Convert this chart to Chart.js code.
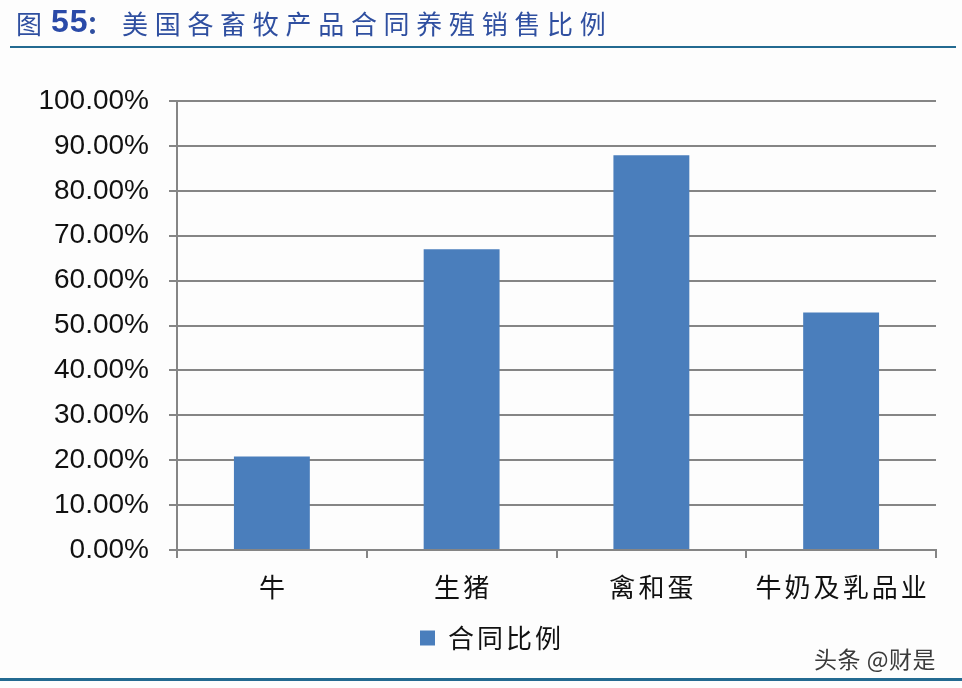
<!DOCTYPE html>
<html>
<head>
<meta charset="utf-8">
<script src="https://cdn.jsdelivr.net/npm/chart.js@4.4.1/dist/chart.umd.min.js"></script>
<style>
  html, body { margin: 0; padding: 0; background: #ffffff; }
  #wrap { position: relative; width: 962px; height: 688px; overflow: hidden; background: #fdfdfd; }
  #chart { position: absolute; left: 0; top: 0; }
  .tt { position: absolute; top: 6px; font-family: "Noto Sans CJK SC", sans-serif; font-size: 26px; color: #2f4fa0; white-space: nowrap; line-height: 34px; }
  #t1 { left: 16px; }
  #t2 { left: 51px; top: 4px; font-family: "Liberation Sans", Arial, sans-serif; font-weight: bold; font-size: 32px; color: #2a4aa8; letter-spacing: 1px; }
  #t3 { left: 86px; font-weight: bold; }
  #t4 { left: 122px; letter-spacing: 6.7px; }
  #topline { position: absolute; left: 10px; top: 46px; width: 946px; height: 2px; background: #236a91; }
  #botline { position: absolute; left: 0px; top: 678px; width: 962px; height: 3px; background: #236a91; }
  #wm { position: absolute; left: 814px; top: 641px; font-family: "Noto Sans CJK SC", sans-serif; font-size: 23px; color: #3a3a3a; white-space: nowrap; letter-spacing: 0.5px; }
</style>
</head>
<body>
<div id="wrap">
  <canvas id="chart" width="962" height="688"></canvas>
  <span class="tt" id="t1">图</span><span class="tt" id="t2">55</span><span class="tt" id="t3">：</span><span class="tt" id="t4">美国各畜牧产品合同养殖销售比例</span>
  <div id="topline"></div>
  <div id="botline"></div>
  <div id="wm">头条 @财是</div>
</div>
<script>
const categories = ["牛", "生猪", "禽和蛋", "牛奶及乳品业"];
const seriesName = "合同比例";
const contractShare = [20.8, 67.0, 87.9, 52.9];
const yTickValues = [0, 10, 20, 30, 40, 50, 60, 70, 80, 90, 100];

const gridColor = "#858585";
const barColor = "#4a7ebc";

const chart = new Chart(document.getElementById("chart"), {
  type: "bar",
  data: {
    labels: categories,
    datasets: [{
      label: seriesName,
      data: contractShare,
      backgroundColor: barColor,
      borderWidth: 0,
      barPercentage: 0.4,
      categoryPercentage: 1.0
    }]
  },
  options: {
    responsive: false,
    devicePixelRatio: 1,
    animation: false,
    layout: { padding: { top: 101, right: 26, left: 36, bottom: 27 } },
    plugins: {
      tooltip: { enabled: false },
      legend: {
        position: "bottom",
        labels: {
          boxWidth: 15,
          boxHeight: 15,
          padding: 10,
          color: "#111111",
          font: { family: "'Noto Sans CJK SC', sans-serif", size: 26 }
        }
      }
    },
    scales: {
      x: {
        grid: { display: true, drawOnChartArea: false, drawTicks: true, tickLength: 8, color: gridColor, lineWidth: 2, offset: true },
        border: { display: true, color: gridColor, width: 2 },
        ticks: {
          color: "#111111",
          padding: 14,
          font: { family: "'Noto Sans CJK SC', sans-serif", size: 26 },
          maxRotation: 0
        },
        afterFit: (s) => { s.height = 65; }
      },
      y: {
        min: 0,
        max: 100,
        afterBuildTicks: (s) => { s.ticks = yTickValues.map(v => ({ value: v })); },
        grid: { color: gridColor, lineWidth: 2, drawTicks: true, tickLength: 8 },
        border: { display: true, color: gridColor, width: 2 },
        ticks: {
          color: "#111111",
          padding: 20,
          font: { family: "'Liberation Sans', Arial, sans-serif", size: 28 },
          callback: (v) => Number(v).toFixed(2) + "%"
        },
        afterFit: (s) => { s.width = 141; }
      }
    }
  }
});

// wider character spacing for the CJK category labels and legend text
const xs = chart.scales.x;
const origXLabels = xs.drawLabels.bind(xs);
xs.drawLabels = function (area) {
  const ctx = this.ctx;
  ctx.save();
  ctx.letterSpacing = "3px";
  ctx.translate(1.5, 0);
  origXLabels(area);
  ctx.restore();
};
const lg = chart.legend;
const origLegendDraw = lg.draw.bind(lg);
lg.draw = function () {
  const ctx = this.ctx;
  ctx.save();
  ctx.letterSpacing = "3px";
  origLegendDraw();
  ctx.restore();
};
chart.draw();
</script>
</body>
</html>
